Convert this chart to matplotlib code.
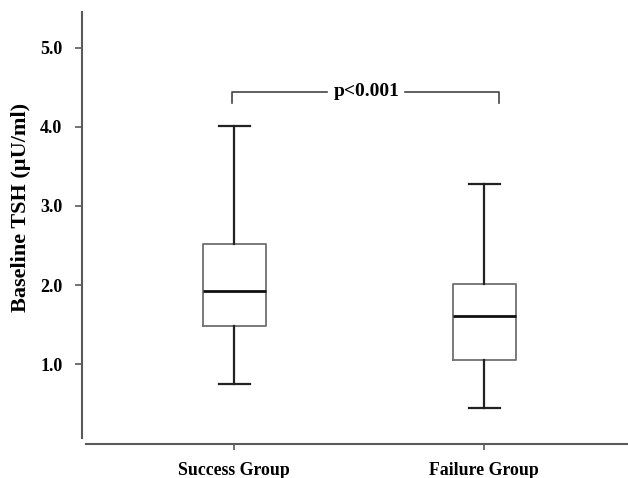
import matplotlib
matplotlib.use("Agg")
import matplotlib.pyplot as plt

# Données (TSH de base, µU/ml)
groups = ["Success Group", "Failure Group"]
whisker_low = [0.75, 0.45]
q1 = [1.48, 1.05]
median = [1.93, 1.61]
q3 = [2.52, 2.02]
whisker_high = [4.01, 3.28]
y_ticks = [1.0, 2.0, 3.0, 4.0, 5.0]
p_text = "p<0.001"

plt.rcParams['font.family'] = ['Liberation Serif', 'DejaVu Serif']
plt.rcParams['font.weight'] = 'bold'

fig = plt.figure(figsize=(6.28, 4.78), dpi=100)
ax = fig.add_axes([0.137, 0.072, 0.863, 0.903])

stats = []
for i, name in enumerate(groups):
    stats.append({
        'label': name,
        'whislo': whisker_low[i],
        'q1': q1[i],
        'med': median[i],
        'q3': q3[i],
        'whishi': whisker_high[i],
        'fliers': [],
    })

ax.bxp(stats, positions=[1, 2], widths=0.252, capwidths=0.124,
       showfliers=False,
       boxprops=dict(color='#707070', linewidth=1.3),
       medianprops=dict(color='#111111', linewidth=2.0),
       whiskerprops=dict(color='#222222', linewidth=1.6),
       capprops=dict(color='#222222', linewidth=1.6))

ax.set_xlim(0.408, 2.576)
ax.set_ylim(0, 5.45)
ax.set_yticks(y_ticks)
ax.set_yticklabels([f"{v:.1f}" for v in y_ticks])
ax.set_xticks([1, 2])
ax.set_xticklabels(groups)
ax.set_ylabel("Baseline TSH (µU/ml)", fontsize=16, fontweight='bold')
ax.yaxis.set_label_coords(-0.102, 0.547)

for side in ['top', 'right']:
    ax.spines[side].set_visible(False)
ax.spines['left'].set_position(('outward', 3))
ax.spines['left'].set_bounds(0.07, 5.45)
for side in ['left', 'bottom']:
    ax.spines[side].set_color('#5a5a5a')
    ax.spines[side].set_linewidth(1.5)
ax.tick_params(axis='y', direction='out', length=5, width=1.2, color='#5a5a5a',
               pad=9, labelsize=13)
ax.tick_params(axis='x', direction='out', length=4, width=1.2, color='#5a5a5a',
               pad=9.5, labelsize=12.8)

# Crochet de significativité
bx0, bx1 = 0.99, 2.06
by0, by1 = 4.30, 4.44
ax.plot([bx0, bx0, 1.37], [by0, by1, by1], color='#444444', linewidth=1.2)
ax.plot([1.685, bx1, bx1], [by1, by1, by0], color='#444444', linewidth=1.2)
ax.text(1.53, by1 + 0.01, p_text, ha='center', va='center', fontsize=14, fontweight='bold')

fig.savefig("out.png", dpi=100)
